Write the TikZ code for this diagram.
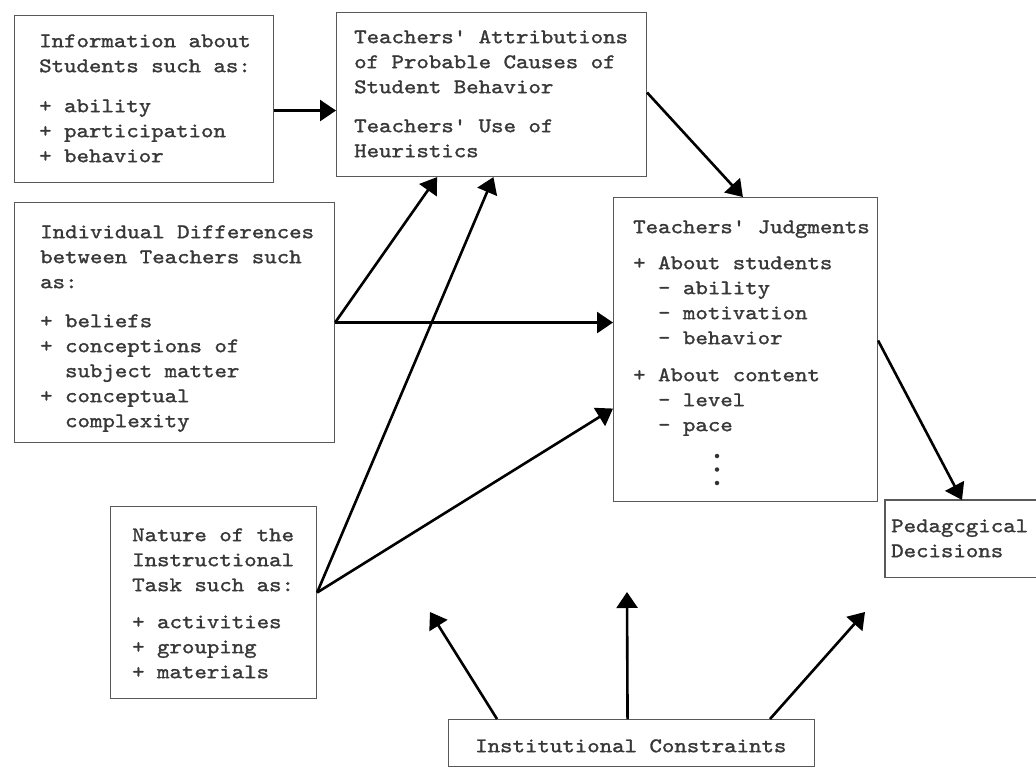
\documentclass[tikz,border=0pt]{standalone}
\usepackage{fontspec}
\newfontfamily\tw{lmmono10-regular.otf}[FakeStretch=1.14,FakeBold=1.4]
\usetikzlibrary{arrows.meta,calc}
\begin{document}
\begin{tikzpicture}[x=1pt,y=-1pt,
  box/.style={draw=black!65, line width=1.1pt, inner sep=0pt, anchor=north west},
  txt/.style={inner sep=0pt, anchor=north west, align=left, text=black!78,
              font=\tw\fontsize{20.8}{25}\selectfont},
  dot/.style={circle, fill=black!80, inner sep=0pt, minimum size=4.5pt},
  arr/.style={line width=2.6pt, draw=black, -{Triangle[length=16pt,width=21pt]}}]
\useasboundingbox (0,0) rectangle (1036,768);

% boxes
\node[box, minimum width=259pt, minimum height=167pt] (b1) at (14,15) {};
\node[box, minimum width=310pt, minimum height=164pt] (b2) at (336,12) {};
\node[box, minimum width=320pt, minimum height=240pt] (b3) at (14,202) {};
\node[box, minimum width=264pt, minimum height=304pt] (b4) at (613,197) {};
\node[box, minimum width=206pt, minimum height=192pt] (b5) at (110,506) {};
\node[box, minimum width=366pt, minimum height=47pt] (b6) at (448,719) {};
\node[inner sep=0pt, anchor=north west, minimum width=151pt, minimum height=77pt] (b7) at (885,500) {};
\draw[draw=black!65, line width=1.1pt] (b7.north east) -- (b7.north west) -- (b7.south west) -- (b7.south east);

% texts
\node[txt] (t1) at (39,29.5) {\strut Information about\\Students such as:\\[15pt]+ ability\\+ participation\\+ behavior};
\node[txt] (t2) at (354,25.5) {\strut Teachers' Attributions\\of Probable Causes of\\Student Behavior\\[14pt]Teachers' Use of\\Heuristics};
\node[txt] (t3) at (40,220.5) {\strut Individual Differences\\between Teachers such\\as:\\[14pt]+ beliefs\\+ conceptions of\\\phantom{+x}subject matter\\+ conceptual\\\phantom{+x}complexity};
\node[txt] (t4) at (633,215.5) {\strut Teachers' Judgments\\[11pt]+ About students\\\phantom{+x}- ability\\\phantom{+x}- motivation\\\phantom{+x}- behavior\\[12pt]+ About content\\\phantom{+x}- level\\\phantom{+x}- pace};
\node[dot] (d1) at (717,456) {};
\node[dot] (d2) at (717,469.5) {};
\node[dot] (d3) at (717,483) {};
\node[txt] (t5) at (132,523.5) {\strut Nature of the\\Instructional\\Task such as:\\[12pt]+ activities\\+ grouping\\+ materials};
\node[txt] (t6) at (475,734.5) {\strut Institutional Constraints};
\node[txt] (t7) at (891,514.5) {\strut Pedagcgical\\Decisions};

% free ends of the arrows from the constraints box
\coordinate (c1) at (430,612);
\coordinate (c2) at (627,592);
\coordinate (c3) at (865,612);

% arrows
\draw[arr] ($(b1.east)+(0,11.5)$) -- ($(b2.west)+(0,16)$);
\draw[arr] ($(b2.east)+(0,-2)$) -- ($(b4.north west)!0.49!(b4.north east)$);
\draw[arr] (b3.east) -- ($(b2.south west)!0.325!(b2.south east)$);
\draw[arr] (b3.east) -- (b3.east -| b4.west);
\draw[arr] ($(b5.east)+(0,-10)$) -- ($(b2.south west)!0.506!(b2.south east)$);
\draw[arr] ($(b5.east)+(0,-10)$) -- ($(b4.west)+(0,59)$);
\draw[arr] ($(b4.east)+(0,-9)$) -- ($(b7.north west)+(77,0)$);
\draw[arr] ($(b6.north west)+(49,0)$) -- (c1);
\draw[arr] ($(b6.north)+(-4,0)$) -- (c2);
\draw[arr] ($(b6.north west)+(322,0)$) -- (c3);
\end{tikzpicture}
\end{document}
